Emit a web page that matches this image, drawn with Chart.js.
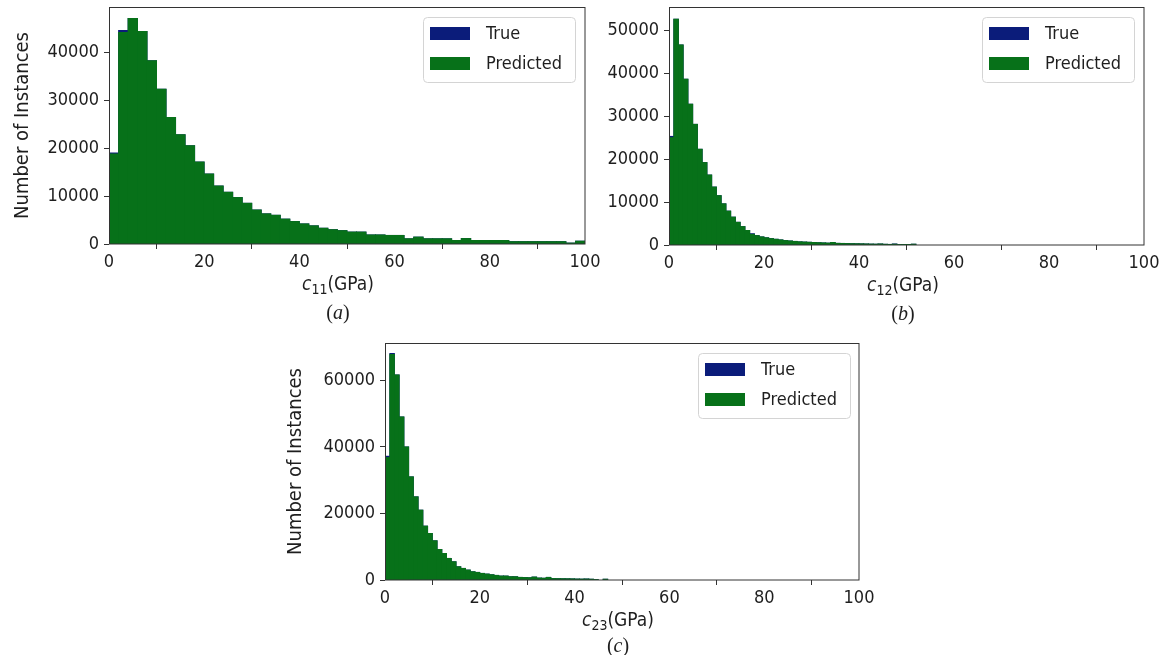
<!DOCTYPE html>
<html>
<head>
<meta charset="utf-8">
<script src="https://cdn.jsdelivr.net/npm/chart.js@4.4.1/dist/chart.umd.min.js"></script>
<style>
  html, body { margin: 0; padding: 0; background: #ffffff; }
  #wrap { position: relative; width: 1167px; height: 655px; overflow: hidden; }
  #wrap canvas { position: absolute; left: 0; top: 0; }
</style>
</head>
<body>
<div id="wrap">
  <canvas id="cA" width="1167" height="655"></canvas>
  <canvas id="cB" width="1167" height="655"></canvas>
  <canvas id="cC" width="1167" height="655"></canvas>
</div>
<script>
// Histogram counts per bin (bins start at 0 GPa).
const seriesNames = ['True', 'Predicted'];
const xTicks = [0, 20, 40, 60, 80, 100];
const yTicksA = [0, 10000, 20000, 30000, 40000];
const yTicksB = [0, 10000, 20000, 30000, 40000, 50000];
const yTicksC = [0, 20000, 40000, 60000];

// (a) c11, bins 2 GPa wide
const binWidthA = 2;
const trueA = [19000, 44500, 47000, 44300, 38200, 32300, 26400, 22800, 20500, 17100,
               14600, 12100, 10800, 9700, 8500, 7100, 6300, 6000, 5200, 4700,
               4200, 3800, 3300, 3000, 2800, 2500, 2500, 1900, 1900, 1800,
               1800, 1100, 1450, 1100, 1100, 1100, 750, 1150, 750, 750,
               750, 750, 500, 500, 500, 500, 500, 500, 200, 600];
const predA = [18800, 44100, 47000, 44300, 38200, 32300, 26400, 22800, 20500, 17100,
               14600, 12100, 10800, 9700, 8500, 7100, 6300, 6000, 5200, 4700,
               4200, 3800, 3300, 3000, 2800, 2500, 2500, 1900, 1900, 1800,
               1800, 1100, 1450, 1100, 1100, 1100, 750, 1150, 750, 750,
               750, 750, 500, 500, 500, 500, 500, 500, 200, 600];

// (b) c12, bins 1 GPa wide
const binWidthB = 1;
const trueB = [25300, 52600, 46600, 38600, 32800, 28100, 22300, 19200, 16300, 13500,
               11500, 9600, 7900, 6500, 5300, 4300, 3400, 2650, 2200, 1900,
               1700, 1500, 1350, 1200, 1050, 950, 850, 750, 700, 650,
               600, 550, 500, 450, 600, 400, 380, 350, 320, 300,
               280, 250, 220, 200, 250, 180, 150, 260, 120, 100,
               80, 200];
const predB = [25000, 52600, 46600, 38600, 32800, 28100, 22300, 19200, 16300, 13500,
               11500, 9600, 7900, 6500, 5300, 4300, 3400, 2500, 2200, 1900,
               1700, 1500, 1350, 1200, 1050, 950, 850, 750, 700, 650,
               600, 550, 500, 450, 600, 400, 380, 350, 320, 300,
               280, 250, 220, 200, 250, 180, 150, 200, 120, 100,
               80, 200];

// (c) c23, bins 1 GPa wide
const binWidthC = 1;
const trueC = [37200, 68100, 61600, 49000, 40000, 31000, 25000, 21000, 16200, 14000,
               11800, 9200, 8000, 6500, 5500, 4000, 3500, 3000, 2500, 2300,
               2000, 1800, 1600, 1400, 1200, 1200, 1000, 1000, 800, 750,
               700, 900, 600, 550, 800, 450, 420, 400, 380, 350,
               300, 280, 330, 250, 150, 0, 250];
const predC = [36800, 67800, 61600, 49000, 40000, 31000, 25000, 21000, 16200, 14000,
               11800, 9200, 8000, 6500, 5500, 4000, 3500, 3000, 2500, 2300,
               2000, 1800, 1600, 1400, 1200, 1200, 1000, 1000, 800, 750,
               700, 900, 600, 550, 800, 450, 420, 400, 380, 350,
               300, 280, 300, 250, 150, 0, 250];

const NAVY = '#0b1c7a';
const GREEN = '#077119';
const AXIS = '#333333';
const TEXT = '#1e1e1e';
const SANS = '"DejaVu Sans Condensed", "DejaVu Sans", sans-serif';
const SERIF = '"Liberation Serif", "DejaVu Serif", serif';

const PAGE_W = 1167, PAGE_H = 655;
const Y_AXIS_W = 105, X_AXIS_H = 60;

const panels = [
  { id: 'cA', area: { left: 109, top: 7, right: 585, bottom: 244 },
    binWidth: binWidthA, trueVals: trueA, predVals: predA,
    yMax: 49400, yTicks: yTicksA, yTitle: true, yTitleX: 23,
    sub: '11', caption: 'a', labelX: 338, labelY: 284, captionY: 313,
    legend: { x: 423, y: 17 } },
  { id: 'cB', area: { left: 669, top: 7, right: 1144, bottom: 245 },
    binWidth: binWidthB, trueVals: trueB, predVals: predB,
    yMax: 55400, yTicks: yTicksB, yTitle: false, yTitleX: 0,
    sub: '12', caption: 'b', labelX: 903, labelY: 285, captionY: 314,
    legend: { x: 982, y: 17 } },
  { id: 'cC', area: { left: 385, top: 343, right: 859, bottom: 580 },
    binWidth: binWidthC, trueVals: trueC, predVals: predC,
    yMax: 71200, yTicks: yTicksC, yTitle: true, yTitleX: 296,
    sub: '23', caption: 'c', labelX: 618, labelY: 620, captionY: 646,
    legend: { x: 698, y: 353 } }
];

// Spines, legend box, x-axis label with subscript and the panel caption.
const panelDecor = {
  id: 'panelDecor',
  afterDatasetsDraw(chart) {
    const { ctx, chartArea: a } = chart;
    ctx.save();
    ctx.strokeStyle = AXIS;
    ctx.lineWidth = 1;
    ctx.strokeRect(Math.round(a.left) + 0.5, Math.round(a.top) + 0.5,
                   Math.round(a.right - a.left) - 1 + 0.5, Math.round(a.bottom - a.top) - 0.5);
    ctx.restore();
  },
  afterDraw(chart) {
    const p = chart.options.plugins.panelDecor;
    const { ctx } = chart;
    ctx.save();

    // legend
    const lx = p.legend.x, ly = p.legend.y, lw = 152, lh = 65;
    ctx.beginPath();
    ctx.roundRect(lx + 0.5, ly + 0.5, lw, lh, 4);
    ctx.fillStyle = 'rgba(255,255,255,0.85)';
    ctx.fill();
    ctx.strokeStyle = '#d4d4d4';
    ctx.lineWidth = 1;
    ctx.stroke();
    const entries = seriesNames.map(name => chart.data.datasets.find(d => d.label === name));
    ctx.font = '18px ' + SANS;
    ctx.textBaseline = 'middle';
    ctx.textAlign = 'left';
    entries.forEach((ds, i) => {
      const sy = ly + 10 + i * 30;
      ctx.fillStyle = ds.backgroundColor;
      ctx.fillRect(lx + 7, sy, 40, 13);
      ctx.fillStyle = TEXT;
      ctx.fillText(ds.label, lx + 63, sy + 7);
    });

    // x-axis label: c with subscript, then unit
    const parts = [
      { t: 'c', font: 'italic 19px ' + SANS, dy: 0 },
      { t: p.sub, font: '14px ' + SANS, dy: 4 },
      { t: '(GPa)', font: '19px ' + SANS, dy: 0 }
    ];
    let total = 0;
    parts.forEach(pt => { ctx.font = pt.font; pt.w = ctx.measureText(pt.t).width; total += pt.w; });
    let x = p.labelX - total / 2;
    const base = p.labelY + 6;
    ctx.textBaseline = 'alphabetic';
    ctx.fillStyle = TEXT;
    parts.forEach(pt => { ctx.font = pt.font; ctx.fillText(pt.t, x, base + pt.dy); x += pt.w; });

    // caption "(a)" with italic letter
    const cap = [
      { t: '(', font: '20px ' + SERIF },
      { t: p.caption, font: 'italic 20px ' + SERIF },
      { t: ')', font: '20px ' + SERIF }
    ];
    total = 0;
    cap.forEach(pt => { ctx.font = pt.font; pt.w = ctx.measureText(pt.t).width; total += pt.w; });
    x = p.labelX - total / 2;
    cap.forEach(pt => { ctx.font = pt.font; ctx.fillText(pt.t, x, p.captionY + 6); x += pt.w; });
    ctx.restore();
  }
};

function toPoints(vals, width) {
  return vals.map((v, i) => ({ x: (i + 0.5) * width, y: v > 0 ? v : null }));
}

panels.forEach(p => {
  const yLeft = p.area.left - Y_AXIS_W;
  const titleLine = 24;
  new Chart(document.getElementById(p.id), {
    type: 'bar',
    data: {
      datasets: [
        { label: seriesNames[0], data: toPoints(p.trueVals, p.binWidth), backgroundColor: NAVY, order: 2 },
        { label: seriesNames[1], data: toPoints(p.predVals, p.binWidth), backgroundColor: GREEN, order: 1 }
      ]
    },
    options: {
      responsive: false,
      animation: false,
      events: [],
      layout: {
        padding: {
          left: yLeft,
          top: p.area.top,
          right: PAGE_W - p.area.right,
          bottom: PAGE_H - p.area.bottom - X_AXIS_H
        }
      },
      datasets: {
        bar: { grouped: false, barPercentage: 1, categoryPercentage: 1, borderWidth: 0, inflateAmount: 0.4 }
      },
      plugins: {
        legend: { display: false },
        tooltip: { enabled: false },
        panelDecor: p
      },
      scales: {
        x: {
          type: 'linear', min: 0, max: 100, offset: false,
          afterBuildTicks: s => { s.ticks = xTicks.map(v => ({ value: v })); },
          ticks: { color: TEXT, font: { family: SANS, size: 18 }, padding: 3, maxRotation: 0 },
          grid: { drawOnChartArea: false, tickLength: 5, color: AXIS },
          border: { display: false },
          afterFit: s => { s.height = X_AXIS_H; s.paddingLeft = 0; s.paddingRight = 0; }
        },
        y: {
          min: 0, max: p.yMax,
          afterBuildTicks: s => { s.ticks = p.yTicks.map(v => ({ value: v })); },
          ticks: { color: TEXT, font: { family: SANS, size: 18 }, padding: 5,
                   callback: v => String(v) },
          grid: { drawOnChartArea: false, tickLength: 5, color: AXIS },
          border: { display: false },
          title: { display: p.yTitle, text: 'Number of Instances', color: TEXT,
                   font: { family: SANS, size: 20, lineHeight: 1.2 },
                   padding: { top: p.yTitleX - yLeft - titleLine / 2, bottom: 0 } },
          afterFit: s => { s.width = Y_AXIS_W; s.paddingTop = 0; s.paddingBottom = 0; }
        }
      }
    },
    plugins: [panelDecor]
  });
});
</script>
</body>
</html>
